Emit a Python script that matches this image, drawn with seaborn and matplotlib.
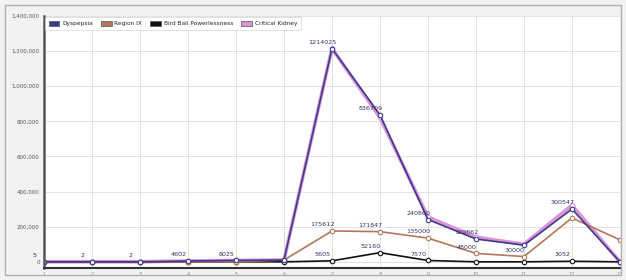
import numpy as np
import pandas as pd
import matplotlib.pyplot as plt
import seaborn as sns
from matplotlib.patches import Rectangle


# ==========================
# 1. data
# ==========================
periods = ["1", "2", "3", "4", "5", "6", "7", "8", "9", "10", "11", "12", "13"]

series_names = ["Dyspepsia", "Region IX", "Bird Bali Powerlessness", "Critical Kidney"]

dyspepsia = [5, 2, 2, 4602, 8025, 9850, 1214025, 836709, 240860, 129862, 95000, 300547, 0]
region_ix = [0, 0, 0, 0, 0, 9850, 175612, 171847, 135000, 48000, 30000, 250000, 125000]
bird_bali = [0, 0, 0, 0, 0, 0, 5605, 52160, 7570, 0, 0, 3052, 0]
critical = [5, 2, 2, 4602, 8025, 9850, 1216025, 822000, 255000, 140000, 100000, 322000, 0]

colors = ["#3b3b8f", "#b5765a", "#111111", "#dc94d6"]

# indices of points that carry a value label
label_idx = {
    "Dyspepsia": [0, 1, 2, 3, 4, 6, 7, 8, 9, 11],
    "Region IX": [6, 7, 8, 9, 10],
    "Bird Bali Powerlessness": [6, 7, 8, 11],
    "Critical Kidney": [],
}


# ==========================
# 2. long format
# ==========================
long_df = pd.DataFrame({
    "x": np.tile(np.arange(len(periods)), 4),
    "value": dyspepsia + region_ix + bird_bali + critical,
    "series": np.repeat(series_names, len(periods)),
})


# ==========================
# 3. plot
# ==========================
sns.set_theme(style="whitegrid")
plt.rcParams["font.family"] = ["DejaVu Sans"]

fig = plt.figure(figsize=(6.26, 2.80), dpi=100)
fig.patch.set_facecolor("#f2f2f2")
fig.patches.append(Rectangle((0.008, 0.018), 0.984, 0.964, transform=fig.transFigure,
                             fill=False, edgecolor="#b0b0b0", lw=1))
ax = fig.add_axes([0.0703, 0.043, 0.920, 0.900])
ax.set_facecolor("white")

# draw pink first so the navy line sits on top of it
order = ["Critical Kidney", "Bird Bali Powerlessness", "Region IX", "Dyspepsia"]
for name in order:
    c = colors[series_names.index(name)]
    sub = long_df[long_df["series"] == name]
    lw = 2.6 if name == "Critical Kidney" else 1.2
    sns.lineplot(data=sub, x="x", y="value", ax=ax, color=c, lw=lw,
                 marker="o", markersize=3.2, markerfacecolor="white",
                 markeredgecolor=c, markeredgewidth=0.8, label=name, legend=False)
    for i in label_idx[name]:
        v = sub["value"].iloc[i]
        ax.text(i - 0.2, v + 22000, f"{v:,}".replace(",", ""), fontsize=4.6,
                color="#333366", ha="center", va="bottom")

ax.set_xlim(0, 12)
ax.set_ylim(-35000, 1400000)
ax.set_yticks(np.arange(0, 1400001, 200000))
ax.set_yticklabels([f"{t:,}" for t in range(0, 1400001, 200000)], fontsize=4, color="#555555")
ax.set_xticks(range(len(periods)))
ax.set_xticklabels(periods, fontsize=3.5, color="#888888")
ax.tick_params(axis="both", length=2, pad=1)
ax.set_xlabel("")
ax.set_ylabel("")
ax.grid(True, color="#dddddd", lw=0.6)
for s in ["top", "right"]:
    ax.spines[s].set_visible(False)
ax.spines["left"].set_color("#555555")
ax.spines["left"].set_linewidth(1.8)
ax.spines["bottom"].set_color("#333333")
ax.spines["bottom"].set_linewidth(1.5)

# legend: square swatches, one row
handles = [Rectangle((0, 0), 1, 1, facecolor=c, edgecolor="#555555", lw=0.5) for c in colors]
leg = ax.legend(handles, series_names, loc="upper left", ncol=4, fontsize=4.2,
                frameon=True, handlelength=1.8, handleheight=1.1, borderpad=0.3,
                columnspacing=1.4, handletextpad=0.5, bbox_to_anchor=(0.0, 1.0))
leg.get_frame().set_edgecolor("#cccccc")
leg.get_frame().set_linewidth(0.5)
leg.get_frame().set_boxstyle("square")

fig.savefig("out.png", dpi=100, facecolor=fig.get_facecolor())
